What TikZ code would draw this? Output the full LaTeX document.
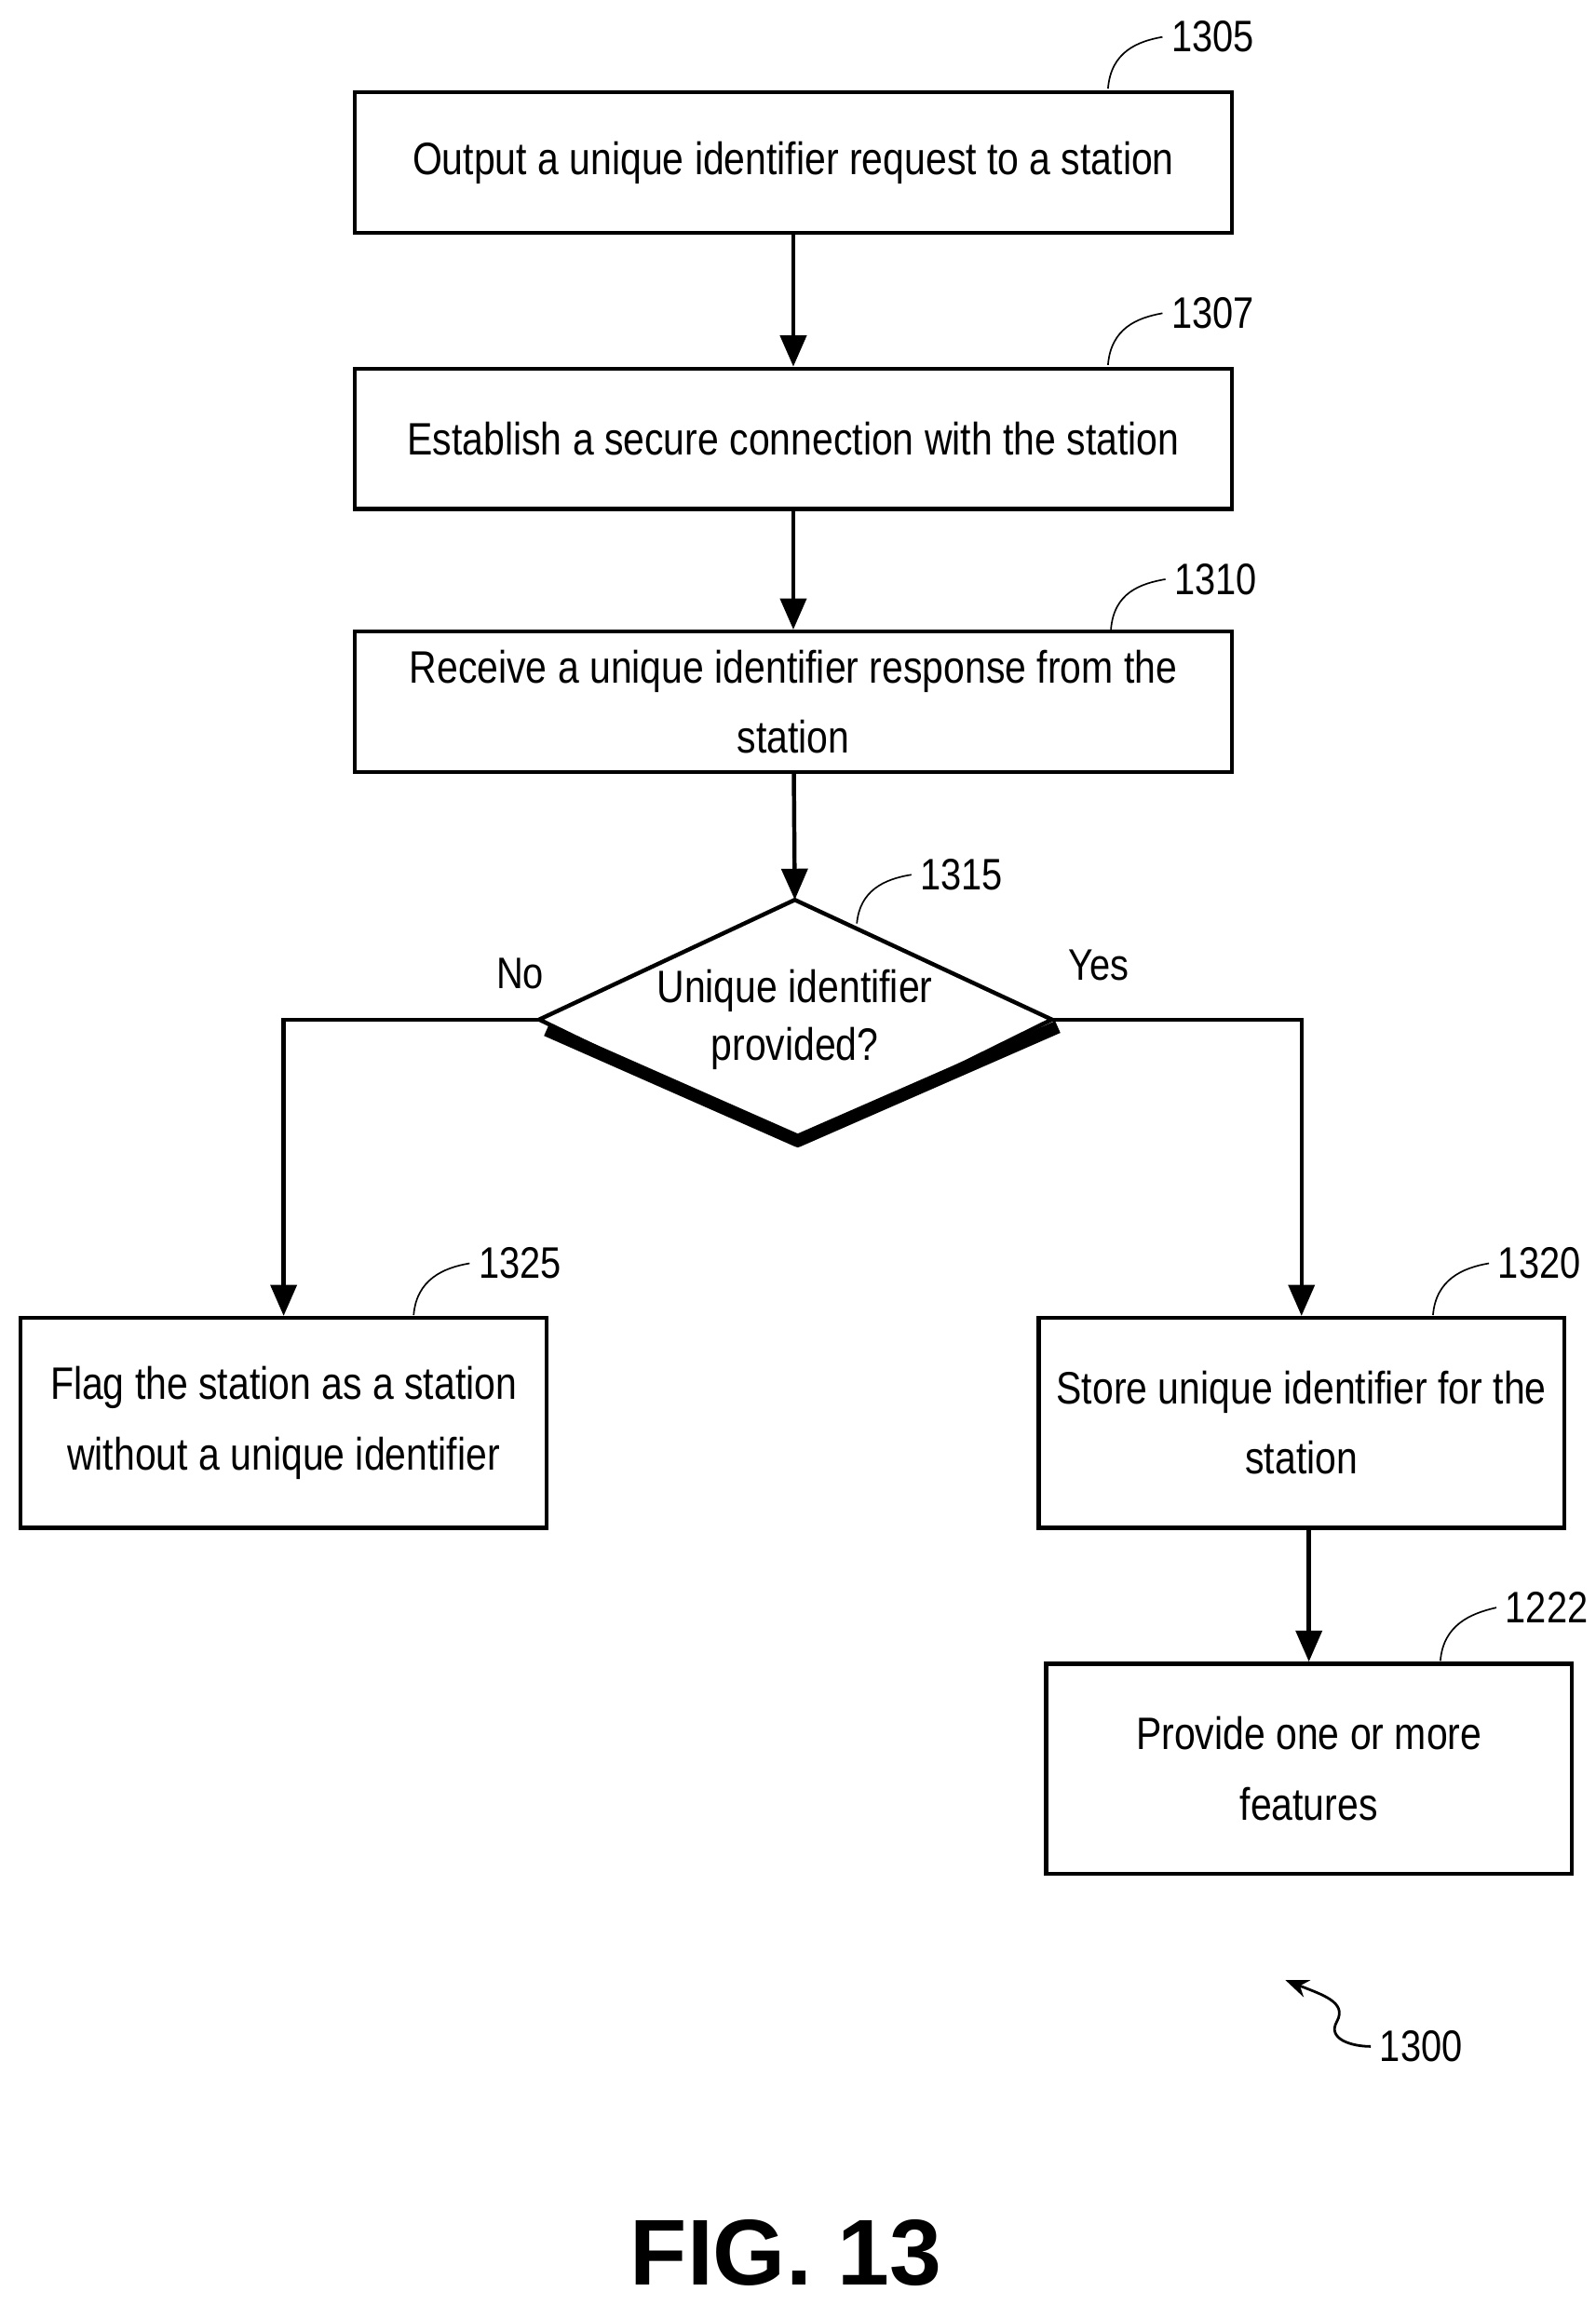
\documentclass[tikz,border=0pt]{standalone}
\usepackage{fontspec}
\setmainfont{Liberation Sans}[FakeStretch=0.84]
\newfontfamily\figfont{Liberation Sans}
\usetikzlibrary{arrows.meta}
\begin{document}
\begin{tikzpicture}[x=0.02cm,y=-0.02cm,
  box/.style={draw,line width=1.6pt,inner sep=0pt,align=center,font=\fontsize{17.5}{27}\selectfont},
  arr/.style={line width=1.6pt,-{Triangle[length=12pt,width=10pt]}},
  ref/.style={font=\fontsize{17}{18}\selectfont},
  lead/.style={line width=0.6pt}]
\useasboundingbox (0,0) rectangle (1080,1560);
\node[box,minimum width=594*0.02cm,minimum height=95*0.02cm] (b1305) at (537,110) {Output a unique identifier request to a station};
\node[box,minimum width=594*0.02cm,minimum height=95*0.02cm] (b1307) at (537,297) {Establish a secure connection with the station};
\node[box,minimum width=594*0.02cm,minimum height=95*0.02cm] (b1310) at (537,475) {Receive a unique identifier response from the\\station};
\coordinate (dl) at (365,690); \coordinate (dt) at (538,609);
\coordinate (dr) at (712,690); \coordinate (db) at (540,775);
\draw[line width=1.6pt] (dl) -- (dt) -- (dr) -- (db) -- cycle;
\draw[line width=5pt,line join=round] (370,697) -- (540,772) -- (716,695);
\node[align=center,font=\fontsize{17.5}{22}\selectfont] (d) at (538,690) {Unique identifier\\provided?};
\node[box,minimum width=356*0.02cm,minimum height=142*0.02cm] (b1325) at (192,963) {Flag the station as a station\\without a unique identifier};
\node[box,minimum width=356*0.02cm,minimum height=142*0.02cm] (b1320) at (881,963) {Store unique identifier for the\\station};
\node[box,minimum width=356*0.02cm,minimum height=142*0.02cm] (b1222) at (886,1197) {Provide one or more\\features};
\draw[arr] (b1305) -- (b1307);
\draw[arr] (b1307) -- (b1310);
\draw[arr] (b1310) -- (dt);
\draw[arr] (dl) -| (b1325.north);
\draw[arr] (dr) -| (b1320.north);
\draw[arr] (886,1034) -- (b1222.north);
\node[ref] (nNo) at (352,659) {No};
\node[ref] (nYes) at (744,653) {Yes};
\node[ref] (l1305) at (821,25) {1305};
\node[ref] (l1307) at (821,212) {1307};
\node[ref] (l1310) at (823,392) {1310};
\node[ref] (l1315) at (651,592) {1315};
\node[ref] (l1325) at (352,855) {1325};
\node[ref] (l1320) at (1042,855) {1320};
\node[ref] (l1222) at (1047,1088) {1222};
\node[ref] (l1300) at (962,1385) {1300};
\draw[lead] (750,60) .. controls (752,35) and (770,28) .. (l1305.west);
\draw[lead] (750,247) .. controls (752,222) and (770,215) .. (l1307.west);
\draw[lead] (752,426) .. controls (754,401) and (772,395) .. (l1310.west);
\draw[lead] (580,625) .. controls (582,603) and (598,595) .. (l1315.west);
\draw[lead] (280,890) .. controls (282,866) and (300,858) .. (l1325.west);
\draw[lead] (970,890) .. controls (972,866) and (990,858) .. (l1320.west);
\draw[lead] (975,1124) .. controls (977,1100) and (995,1092) .. (l1222.west);
\draw[line width=1pt,-{Stealth[length=9pt,width=7pt]}] (l1300.west) .. controls (915,1385) and (898,1380) .. (905,1368) .. controls (912,1355) and (895,1350) .. (870,1340);
\node[font=\fontsize{36}{40}\selectfont\figfont\bfseries] (fig) at (532,1525) {FIG. 13};
\end{tikzpicture}
\end{document}
